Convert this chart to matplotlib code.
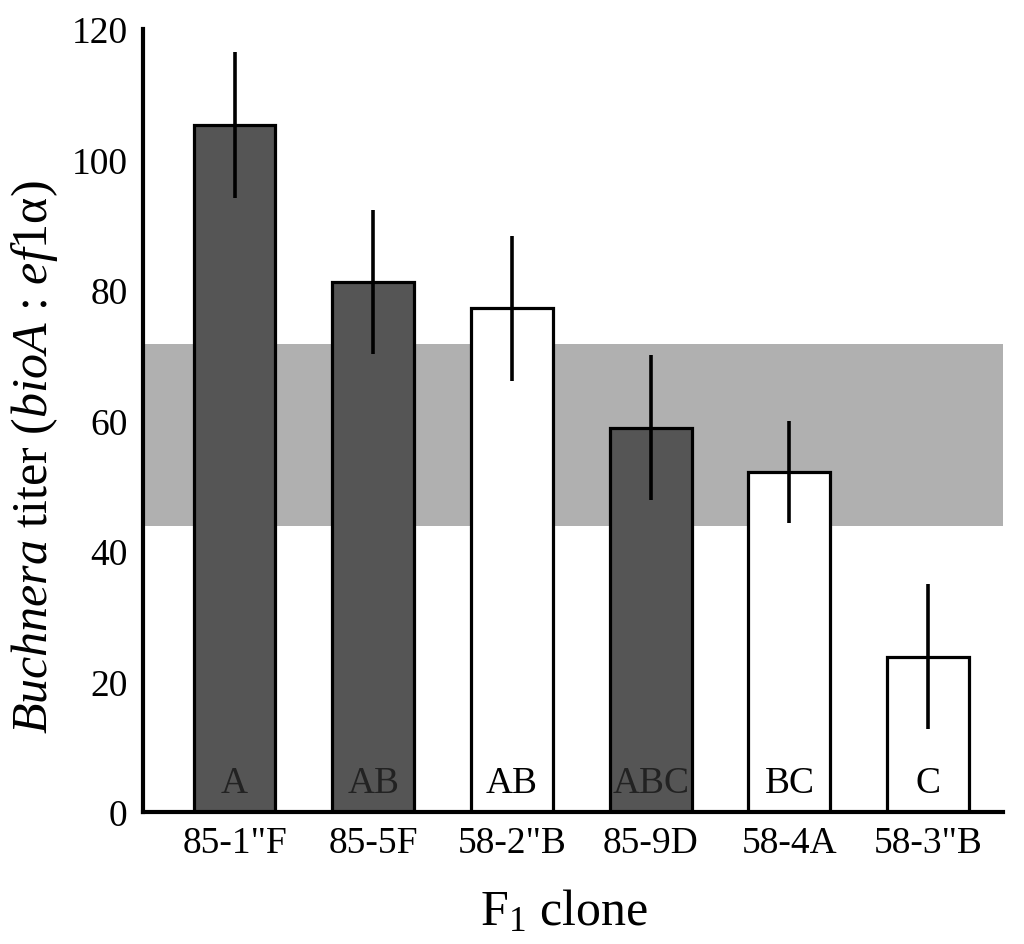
import matplotlib
matplotlib.use("Agg")
import matplotlib.pyplot as plt

plt.rcParams['font.family'] = ['Liberation Serif', 'DejaVu Serif']
plt.rcParams['mathtext.fontset'] = 'custom'
plt.rcParams['mathtext.rm'] = 'Liberation Serif'
plt.rcParams['mathtext.it'] = 'Liberation Serif:italic'

clones = ['85-1"F', '85-5F', '58-2"B', '85-9D', '58-4A', '58-3"B']
titer = [105.3, 81.2, 77.2, 58.9, 52.1, 23.8]
err = [11.2, 11.0, 11.1, 11.1, 7.8, 11.1]
groups = ['A', 'AB', 'AB', 'ABC', 'BC', 'C']
dark = [True, True, False, True, False, False]
band = (43.8, 71.7)

fig = plt.figure(figsize=(10.24, 9.45), dpi=100)
ax = fig.add_axes([0.1396, 0.1397, 0.8399, 0.8286])

# shaded range
ax.axhspan(band[0], band[1], color='#b0b0b0', lw=0, zorder=0)

x = list(range(len(clones)))
colors = ['#555555' if d else 'white' for d in dark]
ax.bar(x, titer, width=0.59, color=colors, edgecolor='black', linewidth=2.3, zorder=2)
ax.errorbar(x, titer, yerr=err, fmt='none', ecolor='black', elinewidth=2.6, capsize=0, zorder=3)

# significance letters
for xi, g, d in zip(x, groups, dark):
    ax.text(xi, 3, g, ha='center', va='baseline', fontsize=27,
            color='#222222' if d else 'black', zorder=4)

ax.set_xlim(-0.66, 5.54)
ax.set_ylim(0, 120)
ax.set_yticks([0, 20, 40, 60, 80, 100, 120])
ax.set_xticks(x)
ax.set_xticklabels(clones)
ax.tick_params(axis='both', length=0, labelsize=27)
ax.tick_params(axis='y', pad=11)
ax.tick_params(axis='x', pad=10)

for s in ['top', 'right']:
    ax.spines[s].set_visible(False)
for s in ['left', 'bottom']:
    ax.spines[s].set_linewidth(3)
    ax.spines[s].set_zorder(5)

ax.set_xlabel(r'F$_1$ clone', fontsize=36)
ax.set_ylabel(r'$\mathit{Buchnera}$ titer ($\mathit{bioA}$ : $\mathit{ef1}$α)', fontsize=36)
ax.yaxis.set_label_coords(-0.097, 0.455)
ax.xaxis.set_label_coords(0.49, -0.097)

fig.savefig('out.png', dpi=100)
